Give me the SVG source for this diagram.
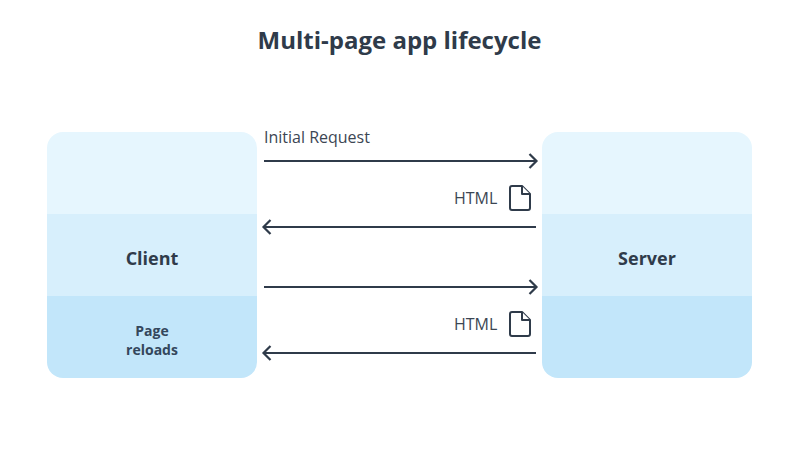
<svg xmlns="http://www.w3.org/2000/svg" width="800" height="453" viewBox="0 0 800 453">
<defs>
<marker id="arrow" markerUnits="userSpaceOnUse" markerWidth="14" markerHeight="18" refX="10.500" refY="8" orient="auto-start-reverse" overflow="visible"><path d="M3 1 L10 8 L3 15" fill="none" stroke="#2f3b4a" stroke-width="2.200"/></marker>
<clipPath id="c1"><rect x="47" y="132" width="210" height="246" rx="16"/></clipPath>
<clipPath id="c2"><rect x="542" y="132" width="210" height="246" rx="16"/></clipPath>
</defs>
<style>
text{font-family:"Open Sans","Noto Sans",sans-serif;fill:#2f3b4a}
.t{font-size:24px;font-weight:700;text-anchor:middle}
.n{font-size:18px;font-weight:700;text-anchor:middle}
.s{font-size:14px;font-weight:700;text-anchor:middle;fill:#34475c}
.l{font-size:16px;fill:#3c4653}
.c{stroke:#2f3b4a;stroke-width:2.200;fill:none}
.a{fill:#e6f6fe}.b{fill:#d7effc}.d{fill:#c2e6fa}
.f{fill:#fff;stroke:#2f3b4a;stroke-width:2;stroke-linejoin:round}
</style>
<rect width="800" height="453" fill="#fff"/>
<text class="t" x="399.500" y="49">Multi-page app lifecycle</text>
<g id="client">
<g clip-path="url(#c1)"><rect class="a" x="47" y="132" width="210" height="82"/><rect class="b" x="47" y="214" width="210" height="82"/><rect class="d" x="47" y="296" width="210" height="82"/></g>
<text class="n" x="152" y="265">Client</text>
<text class="s" x="152" y="336">Page</text>
<text class="s" x="152" y="355">reloads</text>
</g>
<g id="server">
<g clip-path="url(#c2)"><rect class="a" x="542" y="132" width="210" height="82"/><rect class="b" x="542" y="214" width="210" height="82"/><rect class="d" x="542" y="296" width="210" height="82"/></g>
<text class="n" x="647" y="265">Server</text>
</g>
<g id="connectors">
<line class="c" x1="264" y1="161" x2="537" y2="161" marker-end="url(#arrow)"/>
<line class="c" x1="536" y1="227" x2="263" y2="227" marker-end="url(#arrow)"/>
<line class="c" x1="264" y1="287" x2="537" y2="287" marker-end="url(#arrow)"/>
<line class="c" x1="536" y1="353" x2="263" y2="353" marker-end="url(#arrow)"/>
</g>
<g id="label-initial"><text class="l" x="264" y="143">Initial Request</text></g>
<g id="html-1">
<text class="l" x="454" y="204">HTML</text>
<path class="f" d="M512 186 H522 L530 194 V208 Q530 210 528 210 H512 Q510 210 510 208 V188 Q510 186 512 186 Z"/>
<path class="f" d="M522 186 V194 H530"/>
</g>
<g id="html-2">
<text class="l" x="454" y="330">HTML</text>
<path class="f" d="M512 312 H522 L530 320 V334 Q530 336 528 336 H512 Q510 336 510 334 V314 Q510 312 512 312 Z"/>
<path class="f" d="M522 312 V320 H530"/>
</g>
</svg>
